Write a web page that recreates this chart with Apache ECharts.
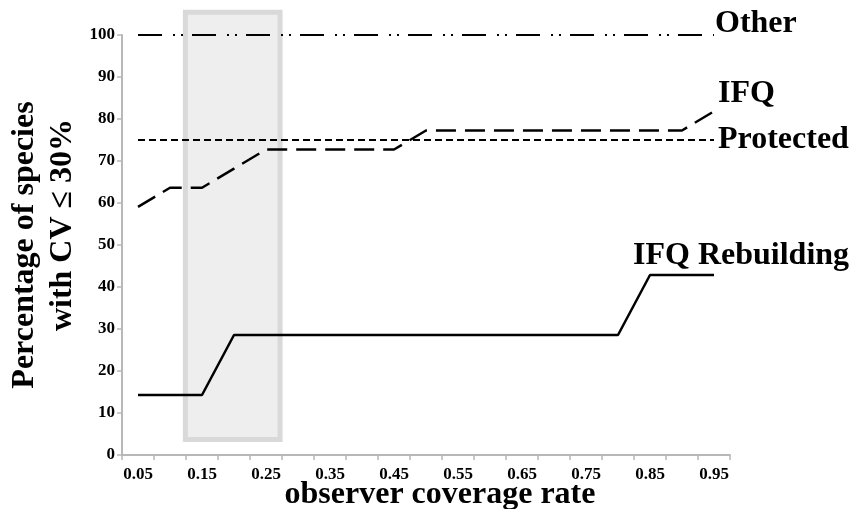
<!DOCTYPE html>
<html>
<head>
<meta charset="utf-8">
<script src="https://cdn.jsdelivr.net/npm/echarts@6/dist/echarts.min.js"></script>
<style>
  html, body { margin: 0; padding: 0; background: #fff; }
  #main { width: 851px; height: 509px; }
</style>
</head>
<body>
<div id="main"></div>
<script>
// observer coverage rate categories
var rates = ['0.05', '0.10', '0.15', '0.20', '0.25', '0.30', '0.35', '0.40', '0.45', '0.50',
             '0.55', '0.60', '0.65', '0.70', '0.75', '0.80', '0.85', '0.90', '0.95'];

// percentage of species with CV <= 30%
var other = [100, 100, 100, 100, 100, 100, 100, 100, 100, 100,
             100, 100, 100, 100, 100, 100, 100, 100, 100];
var ifq = [59.09, 63.64, 63.64, 68.18, 72.73, 72.73, 72.73, 72.73, 72.73, 77.27,
           77.27, 77.27, 77.27, 77.27, 77.27, 77.27, 77.27, 77.27, 81.82];
var protectedSp = [75, 75, 75, 75, 75, 75, 75, 75, 75, 75,
                   75, 75, 75, 75, 75, 75, 75, 75, 75];
var rebuilding = [14.29, 14.29, 14.29, 28.57, 28.57, 28.57, 28.57, 28.57, 28.57, 28.57,
                  28.57, 28.57, 28.57, 28.57, 28.57, 28.57, 42.86, 42.86, 42.86];

// shaded box: rate from, rate to, percentage from, percentage to
var shadeBox = [[0.124, 0.272, 3.7, 105.4]];

var yTicks = [0, 10, 20, 30, 40, 50, 60, 70, 80, 90, 100];

var font = 'Liberation Serif';
var chart = echarts.init(document.getElementById('main'));

function labelFor(offset) {
    return {
        show: true,
        formatter: '{a}',
        distance: 0,
        offset: offset,
        color: '#000',
        fontFamily: font,
        fontWeight: 'bold',
        fontSize: 32
    };
}

var option = {
    animation: false,
    backgroundColor: '#fff',
    grid: {
        left: 122,
        right: 121,
        top: 35,
        bottom: 54,
        outerBoundsMode: 'none'
    },
    xAxis: [{
        type: 'category',
        data: rates,
        boundaryGap: true,
        name: 'observer coverage rate',
        nameLocation: 'middle',
        nameMoveOverlap: false,
        nameGap: 24,
        nameTextStyle: {
            color: '#000',
            fontFamily: font,
            fontWeight: 'bold',
            fontSize: 32,
            padding: [0, 0, 0, 28]
        },
        axisLine: { lineStyle: { color: '#b8b8b8', width: 2 } },
        axisTick: { show: true, interval: 0, length: 5, lineStyle: { color: '#b8b8b8', width: 1.5 } },
        axisLabel: {
            interval: 1,
            margin: 11,
            color: '#000',
            fontFamily: font,
            fontWeight: 'bold',
            fontSize: 17
        },
        splitLine: { show: false }
    }, {
        // hidden numeric axis for the shaded box
        type: 'value',
        min: 0.025,
        max: 0.975,
        show: false
    }],
    yAxis: {
        type: 'value',
        min: yTicks[0],
        max: yTicks[yTicks.length - 1],
        interval: 10,
        name: 'Percentage of species\n     with CV \u2264 30%',
        nameLocation: 'middle',
        nameMoveOverlap: false,
        nameRotate: 90,
        nameGap: 40,
        nameTextStyle: {
            color: '#000',
            fontFamily: font,
            fontWeight: 'bold',
            fontSize: 32,
            lineHeight: 38,
            align: 'center'
        },
        axisLine: { show: true, lineStyle: { color: '#b8b8b8', width: 2 } },
        axisTick: { show: true, length: 5, lineStyle: { color: '#b8b8b8', width: 1.5 } },
        axisLabel: {
            margin: 7,
            color: '#000',
            fontFamily: font,
            fontWeight: 'bold',
            fontSize: 17
        },
        splitLine: { show: false }
    },
    series: [{
        name: 'shade',
        type: 'custom',
        xAxisIndex: 1,
        data: shadeBox,
        encode: { x: [0, 1], y: [2, 3] },
        clip: false,
        silent: true,
        z: 1,
        renderItem: function (params, api) {
            var p0 = api.coord([api.value(0), api.value(3)]);
            var p1 = api.coord([api.value(1), api.value(2)]);
            return {
                type: 'rect',
                shape: { x: p0[0], y: p0[1], width: p1[0] - p0[0], height: p1[1] - p0[1] },
                style: { fill: '#eeeeee', stroke: '#d9d9d9', lineWidth: 5 }
            };
        }
    }, {
        name: 'Other',
        type: 'line',
        data: other,
        symbol: 'none',
        clip: false,
        z: 3,
        lineStyle: { color: '#000', width: 2, type: [24, 11, 2, 6, 2, 9] },
        endLabel: labelFor([1, -11])
    }, {
        name: 'IFQ',
        type: 'line',
        data: ifq,
        symbol: 'none',
        clip: false,
        z: 3,
        lineStyle: { color: '#000', width: 2.5, type: [20, 9] },
        endLabel: labelFor([4, -18])
    }, {
        name: 'Protected',
        type: 'line',
        data: protectedSp,
        symbol: 'none',
        clip: false,
        z: 3,
        lineStyle: { color: '#000', width: 2, type: [7, 4] },
        endLabel: labelFor([4, 0])
    }, {
        name: 'IFQ Rebuilding',
        type: 'line',
        data: rebuilding,
        symbol: 'none',
        clip: false,
        z: 3,
        lineStyle: { color: '#000', width: 2.5 },
        endLabel: labelFor([-81, -19])
    }]
};

chart.setOption(option);
</script>
</body>
</html>
